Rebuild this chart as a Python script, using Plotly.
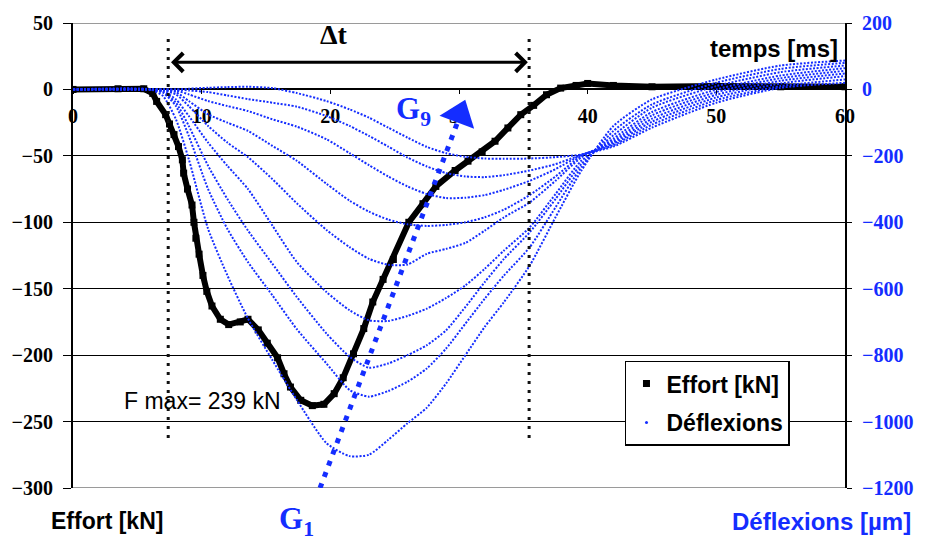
import plotly.graph_objects as go

# ---------------- data ----------------
effort_t = [0, 3.5, 5.5, 6.2, 6.5, 7.2, 7.5, 7.85, 8.2, 8.5, 8.6, 8.9, 9.25, 9.4, 9.55, 9.8, 10.1,
            10.4, 10.8, 11.45, 12.1, 13.0, 13.6, 14.4, 15.1, 15.9, 16.4, 16.9, 17.7, 18.6, 19.5,
            20.3, 21.0, 21.8, 22.6, 23.3, 24.1, 24.9, 26.1, 27.2, 28.2, 29.7, 30.7, 31.8, 32.8,
            33.8, 34.8, 35.8, 36.8, 37.9, 39.1, 40.0, 42, 45, 50, 55, 60]
effort_kN = [0, 0.5, 0.5, -3, -9, -19, -26, -34, -43, -53, -63, -75, -87, -100, -112, -124, -140,
             -152, -163, -173, -177, -175, -173, -181, -191, -202, -214, -224, -234, -238, -237,
             -229, -217, -199, -180, -160, -143, -128, -100, -86, -73, -61, -54, -47, -39,
             -29, -19, -12, -4, 1, 3, 4.5, 3, 2, 2.5, 2, 2]

defl_t = [0, 6, 7, 8, 9, 10.5, 12, 13.6, 15.5, 17.4, 19.7, 21.5, 23, 24.5, 26, 27.5, 29, 30.5,
          32, 33.5, 35.5, 37.5, 39.5, 42, 45, 50, 55, 60]
g1 = [0, 0, -20, -90, -210, -420, -560, -690, -815, -935, -1065, -1104, -1100, -1055, -1005, -958,
      -885, -800, -715, -640, -530, -385, -245, -110, -30, 30, 72, 87]
g2 = [0, 0, -10, -50, -140, -300, -420, -520, -620, -722, -825, -905, -925, -908, -880, -840,
      -780, -705, -630, -560, -475, -355, -235, -125, -45, 20, 62, 80]
g3 = [0, 0, -8, -40, -110, -230, -330, -425, -525, -625, -735, -805, -838, -825, -800, -770,
      -725, -655, -580, -510, -430, -330, -225, -138, -55, 10, 52, 72]
g4 = [0, 0, -5, -30, -80, -160, -230, -300, -410, -520, -610, -665, -695, -697, -682, -660,
      -628, -590, -540, -485, -415, -315, -215, -148, -68, 0, 42, 64]
g5 = [0, 0, -3, -15, -50, -110, -160, -204, -270, -343, -423, -475, -510, -528, -527, -495,
      -480, -462, -425, -385, -340, -275, -205, -155, -78, -8, 34, 56]
g6 = [0, 0, -2, -8, -35, -75, -100, -125, -170, -215, -284, -335, -368, -392, -406, -411,
      -408, -400, -385, -362, -318, -262, -200, -160, -88, -16, 26, 48]
g7 = [0, 0, 0, -3, -15, -35, -50, -65, -90, -112, -150, -192, -228, -262, -292, -315,
      -327, -326, -318, -302, -275, -240, -198, -164, -97, -24, 18, 40]
g8 = [0, 0, 0, 0, -3, -8, -18, -29, -40, -52, -80, -110, -140, -172, -205, -232,
      -252, -262, -264, -258, -244, -225, -197, -168, -106, -32, 10, 30]
g9 = [0, 0, 0, 0, 2, 5, 7, 8, 4, -11, -35, -60, -85, -115, -145, -173,
      -192, -203, -208, -209, -208, -204, -196, -172, -115, -40, 5, 20]
deflexions = [g1, g2, g3, g4, g5, g6, g7, g8, g9]

x_ticks = [0, 10, 20, 30, 40, 50, 60]
y_left_ticks = [50, 0, -50, -100, -150, -200, -250, -300]
y_right_ticks = [200, 0, -200, -400, -600, -800, -1000, -1200]

t_start, t_end = 7.4, 35.45          # Δt window
g_line_t = [19.2, 30.3]               # G1 -> G9 arrow (left axis units)
g_line_y = [-300, -14]

BLUE = "rgb(20,45,255)"
SERIF = "Liberation Serif, Times New Roman, serif"
SANS = "Liberation Sans, Arial, sans-serif"

fig = go.Figure()

for g in deflexions:
    fig.add_trace(go.Scatter(x=defl_t, y=g, yaxis="y2", mode="lines",
                             line=dict(color=BLUE, width=2, dash="2px,1.6px",
                                       shape="spline", smoothing=0.6),
                             showlegend=False, hoverinfo="skip"))

fig.add_trace(go.Scatter(x=effort_t, y=effort_kN, mode="lines+markers",
                         line=dict(color="black", width=6),
                         marker=dict(symbol="square", size=7, color="black"),
                         showlegend=False))

# G arrow (dotted shaft + triangle head)
fig.add_trace(go.Scatter(x=g_line_t, y=g_line_y, mode="lines",
                         line=dict(color=BLUE, width=5, dash="5px,7px"),
                         showlegend=False, hoverinfo="skip"))
fig.add_trace(go.Scatter(x=[30.05], y=[-19], mode="markers",
                         marker=dict(symbol="triangle-up", size=32, color=BLUE, angle=20.5),
                         showlegend=False, hoverinfo="skip", cliponaxis=False))

# legend entries
fig.add_trace(go.Scatter(x=[None], y=[None], mode="markers", name="Effort [kN]",
                         marker=dict(symbol="square", size=7, color="black"),
                         legendgroup="a"))
fig.add_trace(go.Scatter(x=[None], y=[None], mode="markers", name="Déflexions",
                         marker=dict(symbol="circle", size=3, color=BLUE),
                         legendgroup="b"))

fig.update_layout(
    width=925, height=542,
    margin=dict(l=73, r=70, t=18, b=54),
    paper_bgcolor="white", plot_bgcolor="white",
    xaxis=dict(range=[0, 60], tickvals=x_ticks, showgrid=False, zeroline=False,
               showline=True, linecolor="black", linewidth=1.5,
               anchor="free", position=300 / 350,
               ticks="outside", ticklen=4, tickcolor="black",
               tickfont=dict(family=SERIF, size=20, color="black", weight="bold"),
               ticklabelstandoff=5, layer="below traces"),
    yaxis=dict(range=[-300, 50], tickvals=y_left_ticks, showgrid=True,
               gridcolor="black", gridwidth=1, zeroline=False,
               showline=True, linecolor="black", linewidth=2,
               ticks="outside", ticklen=8, tickcolor="black",
               tickfont=dict(family=SERIF, size=20, color="black", weight="bold"),
               ticklabelstandoff=6),
    yaxis2=dict(range=[-1200, 200], tickvals=y_right_ticks, overlaying="y", side="right",
                showgrid=False, zeroline=False,
                showline=True, linecolor="black", linewidth=2,
                ticks="outside", ticklen=5, tickcolor="black",
                tickfont=dict(family=SERIF, size=20, color=BLUE, weight="bold"),
                ticklabelstandoff=6),
    legend=dict(x=0.715, y=0.274, xanchor="left", yanchor="top",
                bgcolor="white", bordercolor="black", borderwidth=1.5,
                font=dict(family=SANS, size=23, color="black", weight="bold"),
                itemwidth=30, tracegroupgap=6, traceorder="grouped"),
    showlegend=True,
)

# top / bottom frame lines (gray)
for yv in (50, -300):
    fig.add_shape(type="line", xref="paper", x0=0, x1=1, yref="y", y0=yv, y1=yv,
                  line=dict(color="#9a9a9a", width=2), layer="between")

# vertical dotted Δt lines
for tv in (t_start, t_end):
    fig.add_shape(type="line", xref="x", x0=tv, x1=tv, yref="y", y0=38, y1=-266,
                  line=dict(color="#111", width=3, dash="3px,6px"), layer="above")

# double arrow Δt
fig.add_annotation(x=t_end - 0.1, y=20.4, ax=t_start + 0.1, ay=20.4, xref="x", yref="y",
                   axref="x", ayref="y", text="", showarrow=True,
                   arrowside="end+start", arrowhead=4, startarrowhead=4,
                   arrowsize=1.2, startarrowsize=1.2, arrowwidth=3, arrowcolor="black",
                   standoff=0, startstandoff=0)
fig.add_annotation(x=20.3, y=41, xref="x", yref="y", text="Δt", showarrow=False,
                   font=dict(family=SERIF, size=28, color="black", weight="bold"))
fig.add_annotation(x=59.6, y=31, xref="x", yref="y", text="temps [ms]", showarrow=False,
                   xanchor="right", font=dict(family=SANS, size=24, color="black", weight="bold"))
fig.add_annotation(x=10.1, y=-234.6, xref="x", yref="y", text="F max= 239 kN", showarrow=False,
                   font=dict(family=SANS, size=23, color="black"))
fig.add_annotation(x=26.5, y=-16, xref="x", yref="y", text="G<sub>9</sub>", showarrow=False,
                   font=dict(family=SERIF, size=31, color=BLUE, weight="bold"))
fig.add_annotation(x=0.290, y=-0.072, xref="paper", yref="paper", text="G<sub>1</sub>",
                   showarrow=False, xanchor="center", yanchor="middle",
                   font=dict(family=SERIF, size=31, color=BLUE, weight="bold"))
fig.add_annotation(x=-0.031, y=-0.072, xref="paper", yref="paper", text="Effort [kN]",
                   showarrow=False, xanchor="left", yanchor="middle",
                   font=dict(family=SANS, size=23, color="black", weight="bold"))
fig.add_annotation(x=1.088, y=-0.072, xref="paper", yref="paper", text="Déflexions [µm]",
                   showarrow=False, xanchor="right", yanchor="middle",
                   font=dict(family=SANS, size=24, color=BLUE, weight="bold"))

fig.write_html("out.html")
